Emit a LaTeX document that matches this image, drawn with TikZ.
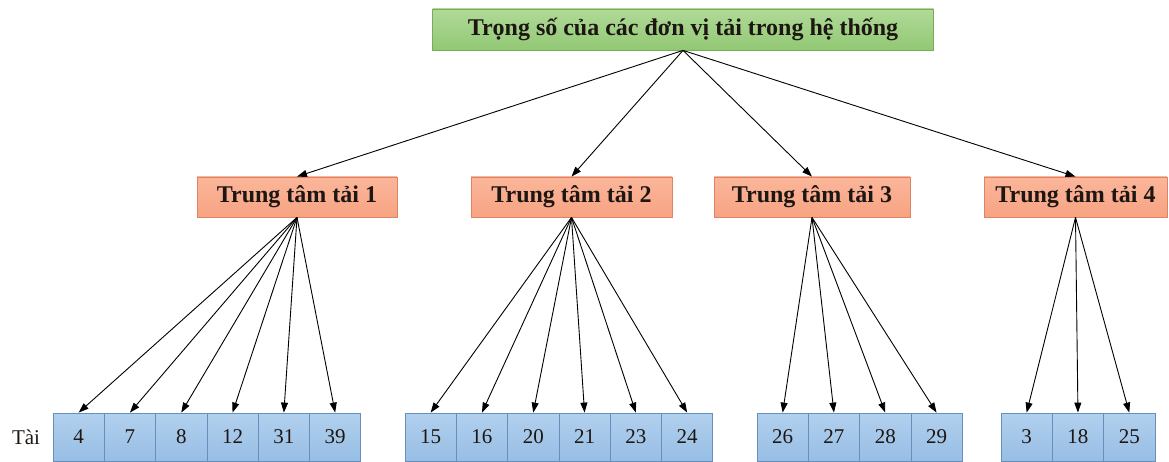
\documentclass[tikz,border=0pt]{standalone}
\usepackage{fontspec}
\setmainfont{Liberation Serif}
\usetikzlibrary{arrows.meta}

\definecolor{greentop}{RGB}{176,218,152}
\definecolor{greenbot}{RGB}{146,200,116}
\definecolor{greenline}{RGB}{122,170,92}
\definecolor{orangetop}{RGB}{251,182,155}
\definecolor{orangebot}{RGB}{247,163,130}
\definecolor{orangeline}{RGB}{222,132,100}
\definecolor{bluetop}{RGB}{178,208,238}
\definecolor{bluebot}{RGB}{150,190,228}
\definecolor{blueline}{RGB}{104,142,188}
\definecolor{ink}{RGB}{30,22,18}

\tikzset{
  basefont/.style={font=\fontsize{21}{25}\selectfont, text=ink},
  boldfont/.style={font=\fontsize{24}{28}\selectfont\bfseries, text=ink},
  topbox/.style={boldfont,
    draw=greenline, line width=0.8pt, top color=greentop, bottom color=greenbot,
    minimum width=501pt, minimum height=41pt, inner sep=0pt},
  centerbox/.style={boldfont,
    draw=orangeline, line width=0.8pt, top color=orangetop, bottom color=orangebot,
    minimum height=40pt, inner sep=0pt},
  cell/.style={basefont, draw=blueline, line width=0.8pt,
    top color=bluetop, bottom color=bluebot,
    minimum width=51.3pt, minimum height=48pt, inner sep=0pt},
  arr/.style={-{Triangle[length=10pt,width=7pt]}, line width=0.9pt, black},
}

\begin{document}
\begin{tikzpicture}[x=1pt,y=-1pt]
\useasboundingbox (0,0) rectangle (1169,462);

% root node
\node[topbox] (top) at (683,29.5) {Trọng số của các đơn vị tải trong hệ thống};

% load centres
\foreach \i/\x/\w in {1/297/200,2/571.5/201,3/812/196,4/1075.5/183}
  \node[centerbox, minimum width=\w pt] (c\i) at (\x,197) {Trung tâm tải \i};
\foreach \i in {1,...,4}
  \draw[arr] (top.south) -- (c\i.north);

% load cells, one row per centre
\foreach \lbl [count=\k from 0] in {4,7,8,12,31,39}
  \node[cell] (t\lbl) at ({53+51.3*(\k+0.5)},437) {\lbl};
\foreach \lbl [count=\k from 0] in {15,16,20,21,23,24}
  \node[cell] (t\lbl) at ({405+51.3*(\k+0.5)},437) {\lbl};
\foreach \lbl [count=\k from 0] in {26,27,28,29}
  \node[cell] (t\lbl) at ({757+51.3*(\k+0.5)},437) {\lbl};
\foreach \lbl [count=\k from 0] in {3,18,25}
  \node[cell] (t\lbl) at ({1001+51.3*(\k+0.5)},437) {\lbl};

\node[basefont] (tai) at (26,437) {Tài};

% connectors from centres to cells
\foreach \lbl in {4,7,8,12,31,39}
  \draw[arr] (c1.south) -- (t\lbl.north);
\foreach \lbl in {15,16,20,21,23,24}
  \draw[arr] (c2.south) -- (t\lbl.north);
\foreach \lbl in {26,27,28,29}
  \draw[arr] (c3.south) -- (t\lbl.north);
\foreach \lbl in {3,18,25}
  \draw[arr] (c4.south) -- (t\lbl.north);
\end{tikzpicture}
\end{document}
